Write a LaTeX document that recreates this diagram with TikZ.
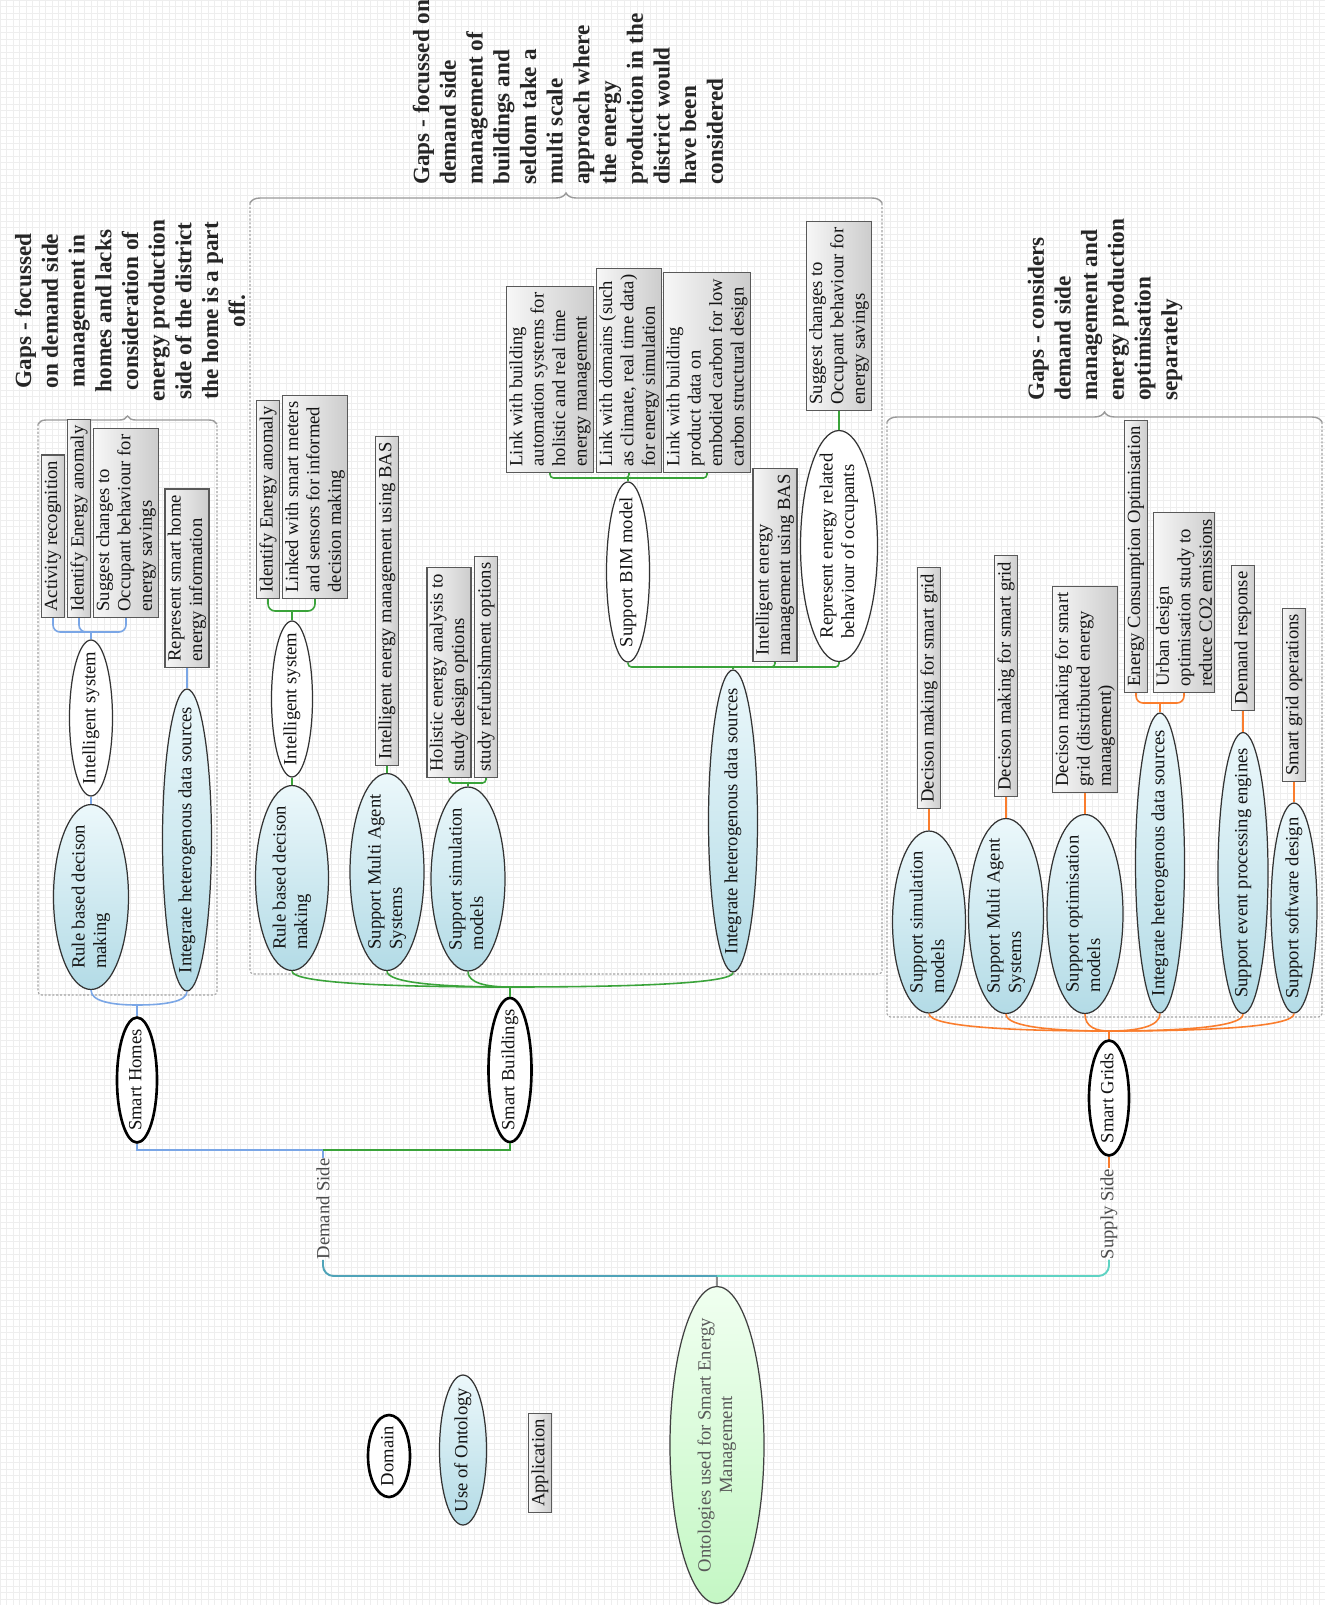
\documentclass[tikz,border=0pt]{standalone}
\usepackage{fontspec}
\setmainfont{Liberation Serif}
\usetikzlibrary{shapes.geometric,calc,decorations.pathreplacing}

\definecolor{homeln}{HTML}{7AA6E6}
\definecolor{buildln}{HTML}{3AA33A}
\definecolor{gridln}{HTML}{FA7D2D}
\definecolor{rootL}{HTML}{4FA3B8}
\definecolor{rootR}{HTML}{5ED3C3}
\definecolor{useL}{HTML}{ECF8FB}
\definecolor{useR}{HTML}{B3DBE6}
\definecolor{boxL}{HTML}{F7F7F7}
\definecolor{boxR}{HTML}{CCCCCC}
\definecolor{ontL}{HTML}{F0FFF0}
\definecolor{ontR}{HTML}{C4F7C4}
\definecolor{framegray}{HTML}{A3A3A3}
\definecolor{bracegray}{HTML}{9A9A9A}
\definecolor{papergrid}{HTML}{EEEEEE}

% one pixel of the drawing grid
\newcommand\pxu{0.02cm}
% texts that do not widen their ellipse
\newcommand\ctext[1]{\makebox[0pt]{\begin{tabular}{@{}c@{}}#1\end{tabular}}}
\newcommand\ltext[1]{\makebox[0pt]{\begin{tabular}{@{}l@{}}#1\end{tabular}}}
% curved branch from a child ellipse down to its parent's junction
\newcommand\curvelink[3]{\draw[#1] (#2.west) .. controls ($(#2.west)!0.75!(#2.west |- #3)$) and ($(#3)!0.55!(#2.west |- #3)$) .. (#3);}

\tikzset{
  bodytext/.style={font=\fontsize{10.6}{12.2}\selectfont, text=black!92},
  upright/.style={rotate=90},
  esize/.style 2 args={minimum width=#1*\pxu, minimum height=#2*\pxu},
  domainell/.style={upright, bodytext, ellipse, draw=black, line width=1.5pt, fill=white, inner sep=0pt},
  useell/.style={upright, bodytext, ellipse, draw=black!80, line width=0.7pt, top color=useL, bottom color=useR, inner sep=0pt},
  whiteell/.style={upright, bodytext, ellipse, draw=black!80, line width=0.7pt, fill=white, inner sep=0pt},
  ontell/.style={upright, bodytext, ellipse, draw=black!75, line width=0.7pt, top color=ontL, bottom color=ontR, inner sep=0pt, text=black!65},
  appbox/.style={upright, bodytext, rectangle, draw=black!65, line width=0.6pt, left color=boxL, right color=boxR, align=left, inner xsep=3.4pt, inner ysep=1.6pt, minimum height=13.3pt, anchor=west},
  sidelabel/.style={upright, bodytext, inner sep=0pt, text=black!70},
  gaptitle/.style={upright, font=\fontsize{13.2}{15.2}\selectfont\bfseries, inner sep=0pt, text=black!85},
  gapframe/.style={draw=framegray, line width=0.6pt, dash pattern=on 1.2pt off 1pt, rounded corners=2pt},
  gapbrace/.style={draw=bracegray, line width=0.8pt, decorate, decoration={brace, amplitude=#1*\pxu}},
  homelink/.style={draw=homeln, line width=0.9pt},
  buildlink/.style={draw=buildln, line width=0.9pt},
  gridlink/.style={draw=gridln, line width=0.9pt},
}

\begin{document}
\begin{tikzpicture}[x=0.02cm, y=-0.02cm]
\useasboundingbox (0,0) rectangle (1325,1605);
\fill[white] (0,0) rectangle (1325,1605);
\draw[papergrid, line width=0.2pt, step=0.13cm] (0,0) grid (1325,1605);

% ---------- gap frames and braces ----------
\draw[gapframe] (38,424) -- (38,995) -- (217,995) -- (217,424);
\draw[gapbrace=8] (38,424) -- (217,424);
\draw[gapframe] (250,203) -- (250,974) -- (882,974) -- (882,203);
\draw[gapbrace=10] (250,203) -- (882,203);
\draw[gapframe] (887,422) -- (887,1017) -- (1322,1017) -- (1322,422);
\draw[gapbrace=10] (887,422) -- (1322,422);

% ---------- gap statements ----------
\node[gaptitle, align=center] (gapH) at (130,311) {Gaps - focussed\\on demand side\\management in\\homes and lacks\\consideration of\\energy production\\side of the district\\the home is a part\\off.};
\node[gaptitle, align=left, anchor=west] (gapB) at (568,185) {Gaps - focussed on\\demand side\\management of\\buildings and\\seldom take a\\multi scale\\approach where\\the energy\\production in the\\district would\\have been\\considered};
\node[gaptitle, align=left, anchor=west] (gapG) at (1105,401) {Gaps - considers\\demand side\\management and\\energy production\\optimisation\\separately};

% ---------- smart homes ----------
\node[domainell, esize={125}{40}] (SH) at (137,1080) {\ctext{Smart Homes}};
\node[useell, esize={185}{75}] (RBh) at (91,897) {\ltext{Rule based decison\\making}};
\node[whiteell, esize={156}{43}] (ISh) at (91,718) {\ctext{Intelligent system}};
\node[useell, esize={302}{49}] (IHh) at (187,840) {\ctext{Integrate heterogenous data sources}};
\node[appbox] (ARh) at (53,618) {Activity recognition};
\node[appbox] (IEAh) at (79,618) {Identify Energy anomaly};
\node[appbox] (SCh) at (126,618) {Suggest changes to\\Occupant behaviour for\\energy savings};
\node[appbox] (RSh) at (187,668) {Represent smart home\\energy information};

\coordinate (jH) at (137,1005);
\draw[homelink] (SH.east) -- (jH);
\curvelink{homelink}{RBh}{jH}
\curvelink{homelink}{IHh}{jH}
\draw[homelink] (RBh.east) -- (ISh.west);
\coordinate (jHi) at (91,632);
\draw[homelink] (ISh.east) -- (jHi);
\foreach \c in {ARh,IEAh,SCh} \draw[homelink, rounded corners=4pt] (jHi) -| (\c.west);
\draw[homelink] (IHh.east) -- (RSh.west);

% ---------- smart buildings ----------
\node[domainell, esize={144}{43}] (SB) at (510,1070) {\ctext{Smart Buildings}};
\node[useell, esize={185}{73}] (RBb) at (292,878) {\ltext{Rule based decison\\making}};
\node[whiteell, esize={156}{41}] (ISb) at (292,699) {\ctext{Intelligent system}};
\node[appbox] (IEAb) at (268,599) {Identify Energy anomaly};
\node[appbox] (LSb) at (315,599) {Linked with smart meters\\and sensors for informed\\decision making};
\node[useell, esize={197}{74}] (SMAb) at (387,872) {\ltext{Support Multi Agent\\Systems}};
\node[appbox] (IEMb) at (387,766) {Intelligent energy management using BAS};
\node[useell, esize={184}{74}] (SSMb) at (468,879) {\ltext{Support simulation\\models}};
\node[appbox] (HEAb) at (449,778) {Holistic energy analysis to\\study design options};
\node[appbox] (SROb) at (486,778) {study refurbishment options};
\node[useell, esize={302}{49}] (IHb) at (733,821) {\ctext{Integrate heterogenous data sources}};
\node[whiteell, esize={180}{43}] (BIM) at (628,572) {\ctext{Support BIM model}};
\node[appbox] (LBAb) at (550,473) {Link with building\\automation systems for\\holistic and real time\\energy management};
\node[appbox] (LDb) at (629,473) {Link with domains (such\\as climate, real time data)\\for energy simulation};
\node[appbox] (LPb) at (707,473) {Link with building\\product data on\\embodied carbon for low\\carbon structural design};
\node[appbox] (IEM2b) at (775,662) {Intelligent energy\\management using BAS};
\node[whiteell, esize={231}{77}] (REb) at (839,546) {\ltext{Represent energy related\\behaviour of occupants}};
\node[appbox] (SC2b) at (839,411) {Suggest changes to\\Occupant behaviour for\\energy savings};

\coordinate (jB) at (510,987);
\draw[buildlink] (SB.east) -- (jB);
\foreach \c in {RBb,SMAb,SSMb,IHb} {\curvelink{buildlink}{\c}{jB}}
\draw[buildlink] (RBb.east) -- (ISb.west);
\coordinate (jBi) at (292,611);
\draw[buildlink] (ISb.east) -- (jBi);
\foreach \c in {IEAb,LSb} \draw[buildlink, rounded corners=4pt] (jBi) -| (\c.west);
\draw[buildlink] (SMAb.east) -- (IEMb.west);
\coordinate (jBs) at (468,783);
\draw[buildlink] (SSMb.east) -- (jBs);
\foreach \c in {HEAb,SROb} \draw[buildlink, rounded corners=2pt] (jBs) -| (\c.west);
\coordinate (jBh) at (733,667);
\draw[buildlink] (IHb.east) -- (jBh);
\foreach \c in {BIM,IEM2b,REb} \draw[buildlink, rounded corners=2pt] (jBh) -| (\c.west);
\coordinate (jBm) at (628,478);
\draw[buildlink] (BIM.east) -- (jBm);
\foreach \c in {LBAb,LDb,LPb} \draw[buildlink, rounded corners=2pt] (jBm) -| (\c.west);
\draw[buildlink] (REb.east) -- (SC2b.west);

% ---------- smart grids ----------
\node[domainell, esize={115}{40}] (SG) at (1109,1098) {\ctext{Smart Grids}};
\node[useell, esize={182}{73}] (SSMg) at (929,922) {\ltext{Support simulation\\models}};
\node[useell, esize={195}{75}] (SMAg) at (1006,916) {\ltext{Support Multi Agent\\Systems}};
\node[useell, esize={199}{76}] (SOMg) at (1085,914) {\ltext{Support optimisation\\models}};
\node[useell, esize={300}{49}] (IHg) at (1160,863) {\ctext{Integrate heterogenous data sources}};
\node[useell, esize={281}{50}] (SEPg) at (1243,873) {\ctext{Support event processing engines}};
\node[useell, esize={210}{46}] (SSDg) at (1294,908) {\ctext{Support software design}};
\node[appbox] (DM1) at (929,809) {Decison making for smart grid};
\node[appbox] (DM2) at (1006,797) {Decison making for smart grid};
\node[appbox] (DM3) at (1085,793) {Decison making for smart\\grid (distributed energy\\management)};
\node[appbox] (ECO) at (1136,693) {Energy Consumption Optimisation};
\node[appbox] (UD) at (1184,693) {Urban design\\optimisation study to\\reduce CO2 emissions};
\node[appbox] (DR) at (1243,711) {Demand response};
\node[appbox] (SGO) at (1294,782) {Smart grid operations};

\coordinate (jG) at (1109,1031);
\draw[gridlink] (SG.east) -- (jG);
\foreach \c in {SSMg,SMAg,SOMg,IHg,SEPg,SSDg} {\curvelink{gridlink}{\c}{jG}}
\draw[gridlink] (SSMg.east) -- (DM1.west);
\draw[gridlink] (SMAg.east) -- (DM2.west);
\draw[gridlink] (SOMg.east) -- (DM3.west);
\coordinate (jGi) at (1160,703);
\draw[gridlink] (IHg.east) -- (jGi);
\foreach \c in {ECO,UD} \draw[gridlink, rounded corners=4pt] (jGi) -| (\c.west);
\draw[gridlink] (SEPg.east) -- (DR.west);
\draw[gridlink] (SSDg.east) -- (SGO.west);

% ---------- demand and supply sides ----------
\node[sidelabel] (DS) at (323,1209) {Demand Side};
\node[sidelabel] (SS) at (1109,1214) {Supply Side};
\coordinate (jD) at (323,1150);
\draw[homelink] (DS.east) -- (jD);
\draw[homelink] (jD) -| (SH.west);
\draw[buildlink] (jD) -| (SB.west);
\draw[gridlink] (SG.west) -- (SS.east);

% ---------- root ----------
\node[ontell, esize={317}{94}] (ONT) at (717,1445) {\ctext{Ontologies used for Smart Energy\\Management}};
\coordinate (jO) at (717,1276);
\draw[black!45, line width=0.9pt] (ONT.east) -- (jO);
\draw[rootL, line width=1.1pt, rounded corners=6pt] (jO) -| (DS.west);
\draw[rootR, line width=1.1pt, rounded corners=6pt] (jO) -| (SS.west);

% ---------- legend ----------
\node[domainell, esize={82}{42}] (LDom) at (389,1456) {\ctext{Domain}};
\node[useell, esize={150}{47}] (LUse) at (463,1450) {\ctext{Use of Ontology}};
\node[appbox, anchor=center] (LApp) at (540,1463) {Application};
\end{tikzpicture}
\end{document}
